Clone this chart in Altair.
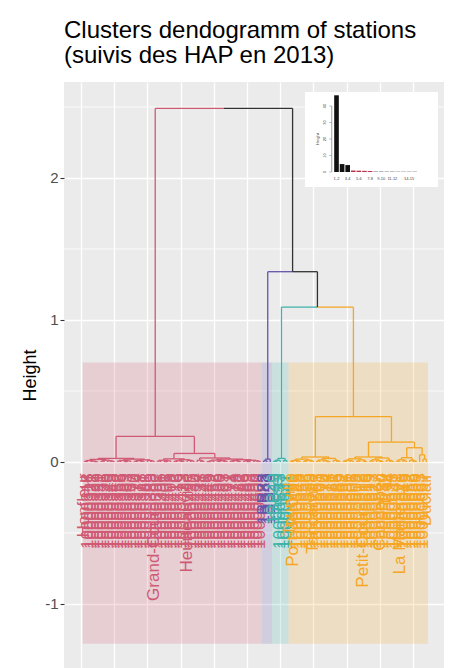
import altair as alt
import pandas as pd

# ---------------- data ----------------
title_lines = ["Clusters dendogramm of stations", "(suivis des HAP en 2013)"]
y_title = "Height"

leaf_labels = [
    # cluster 1 (leaves 1-54)
    "Honfleur", "10000318", "10000321", "10000322", "10000329", "10000331", "10000336", "10000340",
    "10000345", "10000348", "10000352", "10000356", "10000359", "10000363", "10000367", "10000370",
    "10000374", "10000378", "10000381", "10000385", "10000389", "Grand-Couronne",
    "10000392", "10000396", "10000401", "10000405", "10000408", "10000412", "10000416", "10000419",
    "10000423", "Heurteauville",
    "10000427", "10000430", "10000434", "10000438", "10000441", "10000445", "10000449", "10000452",
    "10000456", "10000460", "10000463", "10000467", "10000471", "10000474", "10000478", "10000482",
    "10000485", "10000489", "10000493", "10000496", "10000500", "10000504",
    # cluster 2 (55-57)
    "1BB83", "1BB43", "1BB29",
    # cluster 3 (58-62)
    "1BB49", "Oissel", "10000533", "10000537", "10000541",
    # cluster 4 (63-104)
    "Tourville", "Port-Jérôme", "10000545", "10000548", "10000552", "10000556", "10000559",
    "Tancarville", "10000563", "10000567", "10000570", "10000574", "10000578", "10000581",
    "10000585", "10000589", "10000592", "10000596", "10000601", "10000605", "10000608",
    "10000612", "Petit-Couronne", "10000616", "10000619", "10000623", "10000627", "Caudebec",
    "10000630", "Le Trait", "10000634", "10000638", "10000641", "La Mailleraye", "10000645",
    "10000649", "10000652", "10000656", "10000660", "10000663", "10000667", "Duclair",
]

cluster_ids = ["1", "2", "3", "4"]
cluster_sizes = [54, 3, 5, 42]
cluster_colors = ["#D05A74", "#6654A8", "#3FB2AA", "#F6A623"]
merge_color = "#333333"

# dendrogram: (merge height, left, right); leaves are leaf numbers (1-based order)
RL = (0.025,
      (0.018, (0.010, (0.004, 1, 2), (0.006, 3, (0.003, 4, 5))),
              (0.012, (0.005, 6, 7), (0.008, 8, (0.004, 9, 10)))),
      (0.020, (0.011, (0.006, 11, 12), (0.007, (0.003, 13, 14), 15)),
              (0.015, (0.009, (0.004, 16, 17), (0.005, 18, 19)),
                      (0.010, 20, (0.006, 21, 22)))))
RRL = (0.022,
       (0.012, (0.006, 23, 24), (0.008, (0.003, 25, 26), 27)),
       (0.016, (0.009, (0.004, 28, 29), (0.005, 30, 31)),
               (0.011, 32, (0.007, 33, 34))))
RRR = (0.028,
       (0.012, 35, (0.005, 36, 37)),
       (0.020,
        (0.013, (0.007, (0.003, 38, 39), 40), (0.009, (0.004, 41, 42), (0.005, 43, 44))),
        (0.016, (0.010, (0.006, 45, 46), (0.004, 47, 48)),
                (0.012, (0.007, 49, (0.003, 50, 51)), (0.008, 52, (0.005, 53, 54))))))
R = (0.18, RL, (0.06, RRL, RRR))
P = (0.020, (0.008, 55, 56), 57)
T = (0.025, (0.012, (0.005, 58, 59), 60), (0.010, 61, 62))
OL = (0.035,
      (0.020, (0.010, (0.004, 63, 64), (0.006, 65, 66)), (0.012, (0.005, 67, 68), (0.007, 69, 70))),
      (0.025, (0.014, (0.006, 71, 72), (0.008, 73, (0.003, 74, 75))), (0.011, 76, (0.005, 77, 78))))
ORL = (0.035,
       (0.022, (0.012, (0.005, 79, 80), (0.007, 81, 82)), (0.014, (0.006, 83, 84), (0.004, 85, 86))),
       (0.028, (0.015, (0.007, 87, 88), (0.009, 89, (0.004, 90, 91))), (0.012, 92, (0.006, 93, 94))))
ORR = (0.10,
       (0.030, (0.015, (0.006, 95, 96), (0.008, 97, 98)), (0.012, 99, (0.005, 100, 101))),
       (0.050, 102, (0.020, 103, 104)))
O = (0.32, OL, (0.14, ORL, ORR))
tree = (2.49, R, (1.34, P, (1.09, T, O)))

y_major = [-1, 0, 1, 2]
y_minor = [-0.5, 0.5, 1.5, 2.5]
x_grid = [0, 10, 20, 30, 40, 50, 60, 70, 80, 90, 100]
rect_top = 0.70
rect_bottom = -1.28

# inset bar plot
inset_bins = ["1-2", "2-3", "3-4", "4-5", "5-6", "6-7", "7-8", "8-9", "9-10", "10-11",
              "11-12", "12-13", "13-14", "14-15", "15-16"]
inset_values = [46.5, 4.8, 4.2, 0.9, 0.8, 0.7, 0.6, 0.3, 0.3, 0.25, 0.25, 0.2, 0.2, 0.2, 0.2]
inset_colors = ["#111111"] * 3 + ["#B8334F"] * 4 + ["#666666"] * 8
inset_shown_labels = ["1-2", "3-4", "5-6", "7-8", "9-10", "11-12", "14-15"]
inset_y_ticks = [0, 10, 20, 30, 40]

# ---------------- build tables ----------------
leaf_cluster = []
for cid, n in zip(cluster_ids, cluster_sizes):
    leaf_cluster += [cid] * n
color_map = dict(zip(cluster_ids, cluster_colors))

segments = []


def walk(node):
    if isinstance(node, int):
        return float(node), 0.0, {leaf_cluster[node - 1]}
    h, a, b = node
    xa, ha, ca = walk(a)
    xb, hb, cb = walk(b)
    xn = (xa + xb) / 2
    for xc, hc, cc in ((xa, ha, ca), (xb, hb, cb)):
        col = color_map[next(iter(cc))] if len(cc) == 1 else merge_color
        segments.append(dict(x=xc, x2=xn, y=h, y2=h, col=col))
        segments.append(dict(x=xc, x2=xc, y=hc, y2=h, col=col))
    return xn, h, ca | cb


walk(tree)
seg_df = pd.DataFrame(segments)

leaf_df = pd.DataFrame({
    "x": list(range(1, len(leaf_labels) + 1)),
    "label": leaf_labels,
    "col": [color_map[c] for c in leaf_cluster],
})

rect_rows = []
start = 1
for cid, n in zip(cluster_ids, cluster_sizes):
    rect_rows.append(dict(x=start - 0.5, x2=start + n - 0.5,
                          lo=rect_bottom, hi=rect_top, col=color_map[cid]))
    start += n
rect_df = pd.DataFrame(rect_rows)

inset_df = pd.DataFrame({
    "pos": list(range(1, len(inset_bins) + 1)),
    "bin": inset_bins,
    "v": inset_values,
    "col": inset_colors,
})
inset_lab_df = inset_df[inset_df["bin"].isin(inset_shown_labels)]

# ---------------- scales / axes ----------------
FONT = "Liberation Sans"
X_DOM = [-5.12, 109.34]
Y_DOM = [-1.451, 2.676]


def xs():
    return alt.Scale(domain=X_DOM, nice=False, zero=False)


def ys():
    return alt.Scale(domain=Y_DOM, nice=False, zero=False)


x_axis = alt.Axis(values=x_grid, grid=True, gridColor="white", gridWidth=1.3,
                  labels=False, ticks=False, domain=False, title=None)
y_axis = alt.Axis(values=y_major, grid=True, gridColor="white", gridWidth=1.6,
                  domain=False, tickColor="#333333", tickSize=4, tickWidth=1.1,
                  labelColor="#4D4D4D", labelFontSize=15, labelFont=FONT, labelPadding=2,
                  labelExpr="'' + datum.value",
                  title=y_title, titleFontSize=18, titleFont=FONT, titleColor="black",
                  titleFontWeight="normal", titleX=-34, titleY=293, titleAngle=270,
                  titleAlign="center", titleBaseline="middle")

# axes / grid layer (drawn first)
grid_major = alt.Chart(pd.DataFrame({"gx": x_grid})).mark_rule(opacity=0).encode(
    x=alt.X("gx:Q", scale=xs(), axis=x_axis))
grid_y = alt.Chart(pd.DataFrame({"v": y_minor})).mark_rule(
    color="white", strokeWidth=0.8).encode(
    y=alt.Y("v:Q", scale=ys(), axis=y_axis))

rects = alt.Chart(rect_df).mark_rect(opacity=0.2).encode(
    x=alt.X("x:Q", scale=xs(), axis=None), x2="x2:Q",
    y=alt.Y("lo:Q", scale=ys(), axis=None), y2="hi:Q",
    color=alt.Color("col:N", scale=None))

segs = alt.Chart(seg_df).mark_rule(strokeWidth=1.3).encode(
    x=alt.X("x:Q", scale=xs(), axis=None), x2="x2:Q",
    y=alt.Y("y:Q", scale=ys(), axis=None), y2="y2:Q",
    color=alt.Color("col:N", scale=None))

labels = alt.Chart(leaf_df).transform_calculate(ly="-0.08").mark_text(
    angle=270, align="right", baseline="middle", fontSize=17, font=FONT).encode(
    x=alt.X("x:Q", scale=xs(), axis=None),
    y=alt.Y("ly:Q", scale=ys(), axis=None),
    text="label:N",
    color=alt.Color("col:N", scale=None))

# inset (own scales mapped to a pixel box inside the panel)
IX_DOM = [-4.64, 19.17]
IY_DOM = [-9.1, 48.5]


def ixs():
    return alt.Scale(domain=IX_DOM, range=[241, 374], nice=False, zero=False)


def iys():
    return alt.Scale(domain=IY_DOM, range=[105, 10], nice=False, zero=False)


box = alt.Chart(pd.DataFrame({"bx": [IX_DOM[0]], "bx2": [IX_DOM[1]],
                              "by": [IY_DOM[0]], "by2": [IY_DOM[1]]})).mark_rect(
    color="white").encode(
    x=alt.X("bx:Q", scale=ixs(), axis=None), x2="bx2:Q",
    y=alt.Y("by:Q", scale=iys(), axis=None), y2="by2:Q")

bars = alt.Chart(inset_df).transform_calculate(
    lo="datum.pos - 0.415", hi="datum.pos + 0.415", z="0").mark_rect().encode(
    x=alt.X("lo:Q", scale=ixs(), axis=None), x2="hi:Q",
    y=alt.Y("v:Q", scale=iys(), axis=None), y2="z:Q",
    color=alt.Color("col:N", scale=None))

tick_df = pd.DataFrame({"t": inset_y_ticks, "lab": [str(t) for t in inset_y_ticks]})
iaxis = alt.Chart(pd.DataFrame({"a": [inset_y_ticks[0]], "b": [inset_y_ticks[-1]]})).transform_calculate(
    ax="0.15").mark_rule(color="#444444", strokeWidth=0.5).encode(
    x=alt.X("ax:Q", scale=ixs(), axis=None),
    y=alt.Y("a:Q", scale=iys(), axis=None), y2="b:Q")
iticks = alt.Chart(tick_df).transform_calculate(tx="-0.1").mark_tick(
    orient="horizontal", size=2.5, thickness=0.5, color="#444444").encode(
    x=alt.X("tx:Q", scale=ixs(), axis=None),
    y=alt.Y("t:Q", scale=iys(), axis=None))
iticklab = alt.Chart(tick_df).transform_calculate(tx="-1.06").mark_text(
    fontSize=4, angle=270, color="#444444", font=FONT).encode(
    x=alt.X("tx:Q", scale=ixs(), axis=None),
    y=alt.Y("t:Q", scale=iys(), axis=None), text="lab:N")
ixlab = alt.Chart(inset_lab_df).transform_calculate(ty="-4.25").mark_text(
    fontSize=4, color="#444444", font=FONT).encode(
    x=alt.X("pos:Q", scale=ixs(), axis=None),
    y=alt.Y("ty:Q", scale=iys(), axis=None), text="bin:N")
iylab = alt.Chart(pd.DataFrame({"t": [y_title]})).transform_calculate(
    tx="-2.31", ty="20").mark_text(
    fontSize=4, angle=270, color="#444444", font=FONT).encode(
    x=alt.X("tx:Q", scale=ixs(), axis=None),
    y=alt.Y("ty:Q", scale=iys(), axis=None), text="t:N")

chart = alt.layer(
    grid_major, grid_y, rects, segs, labels,
    box, bars, iaxis, iticks, iticklab, ixlab, iylab,
).resolve_scale(
    x="independent", y="independent"
).properties(
    width=380, height=586,
    padding={"left": 64, "top": 82, "right": 5, "bottom": 0},
    autosize=alt.AutoSizeParams(type="none"),
    title=alt.TitleParams(text=title_lines, anchor="start", frame="group", fontSize=24,
                          font=FONT, fontWeight="normal", color="black", lineHeight=25,
                          offset=14),
).configure_view(fill="#EBEBEB", stroke=None)

chart.save("out.html", embed_options={"renderer": "svg", "actions": False})
